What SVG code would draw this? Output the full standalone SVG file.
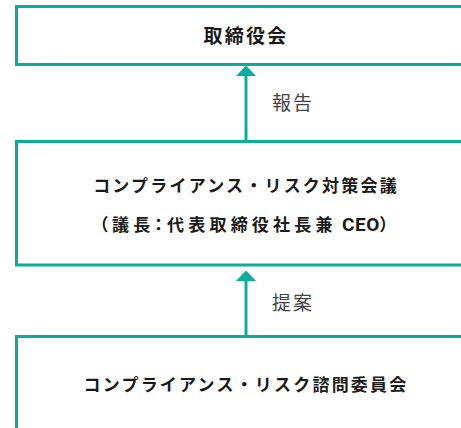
<svg xmlns="http://www.w3.org/2000/svg" width="461" height="428" viewBox="0 0 461 428">
<style>
.box{fill:#fff;stroke:#0aac9a;stroke-width:3}
.conn line{stroke:#0aac9a;stroke-width:3}
.conn polygon{fill:#0aac9a}
.t{font-family:"Noto Sans CJK JP","Noto Sans",sans-serif;font-weight:bold;fill:#1a1a1a;text-anchor:middle}
.lbl{font-family:"Noto Sans CJK JP","Noto Sans",sans-serif;font-weight:normal;fill:#444;font-size:19px;letter-spacing:2px}
</style>
<rect width="461" height="428" fill="#fff"/>
<g id="board">
<rect class="box" x="16.5" y="6.5" width="460" height="58"/>
<text class="t" x="246" y="43" font-size="19" letter-spacing="2.3">取締役会</text>
</g>
<g id="council">
<rect class="box" x="16.5" y="141.5" width="460" height="123.5"/>
<text class="t" x="246" y="191.5" font-size="17" letter-spacing="2.2">コンプライアンス・リスク対策会議</text>
<text class="t" x="246" y="230.5" font-size="17" letter-spacing="4.2" style="font-feature-settings:'palt'">（議長：代表取締役社長兼<tspan letter-spacing="0.6" font-size="19" font-family="Roboto, sans-serif"> CEO</tspan>）</text>
</g>
<g id="advisory">
<rect class="box" x="16.5" y="336.5" width="460" height="120"/>
<text class="t" x="246" y="390.5" font-size="17" letter-spacing="2.2">コンプライアンス・リスク諮問委員会</text>
</g>
<g class="conn" id="connectors">
<line x1="246" y1="75" x2="246" y2="141"/>
<polygon points="236,76 256,76 246,65.5"/>
<line x1="246" y1="280" x2="246" y2="336"/>
<polygon points="236,281 256,281 246,270.5"/>
<text class="lbl" x="272" y="110">報告</text>
<text class="lbl" x="272" y="310">提案</text>
</g>
</svg>
